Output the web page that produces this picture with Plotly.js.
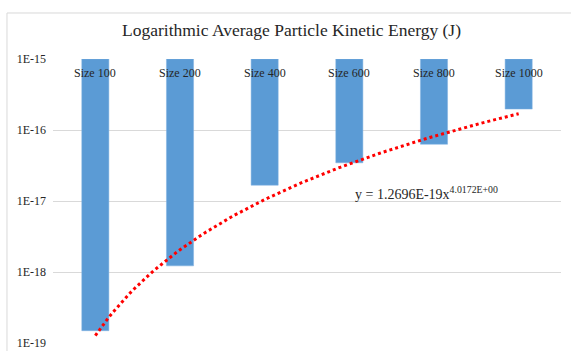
<!DOCTYPE html>
<html>
<head>
<meta charset="utf-8">
<script src="https://cdn.plot.ly/plotly-3.0.1.min.js"></script>
<style>html,body{margin:0;padding:0;background:#fff;}#chart{width:571px;height:351px;}</style>
</head>
<body>
<div id="chart"></div>
<script>
// Data
const categories = ["Size 100", "Size 200", "Size 400", "Size 600", "Size 800", "Size 1000"];
const energies = [1.49e-19, 1.22e-18, 1.67e-17, 3.45e-17, 6.3e-17, 1.97e-16];
const axisTop = 1e-15;                       // horizontal axis crosses at the top of the log axis
const tickValues = [1e-19, 1e-18, 1e-17, 1e-16, 1e-15];
const tickLabels = ["1E-19", "1E-18", "1E-17", "1E-16", "1E-15"];
// Power trendline coefficients as printed on the chart: y = A * x^B
const trendA = 1.2696e-19;
const trendB = 4.0172;
const trendLabel = "y = 1.2696E-19x<sup>4.0172E+00</sup>";

const serif = "Liberation Serif, Times New Roman, serif";
const textColor = "#262626";

// Bars hang from the axis at 1E-15 down to each value
const barTrace = {
  type: "bar",
  x: categories,
  base: energies,
  y: energies.map(v => axisTop - v),
  width: 0.32,
  marker: {color: "#5b9bd5", line: {color: "#7fb0e0", width: 0.5}},
  hoverinfo: "skip",
  showlegend: false
};

// Trendline over category positions 1..6
const tx = [], ty = [];
for (let i = 0; i <= 100; i++) {
  const t = 1 + 5 * i / 100;
  tx.push(t);
  ty.push(trendA * Math.pow(t, trendB));
}
const trendTrace = {
  type: "scatter",
  mode: "lines",
  x: tx, y: ty,
  xaxis: "x2", yaxis: "y",
  line: {color: "#ff0000", width: 3, dash: "dot"},
  hoverinfo: "skip",
  showlegend: false
};

const annotations = categories.map(c => ({
  x: c, xref: "x", y: 1, yref: "paper",
  yanchor: "middle", yshift: -14,
  text: c, showarrow: false,
  font: {family: serif, size: 12, color: textColor}
}));
annotations.push({
  x: 0.736, xref: "paper", y: 0.528, yref: "paper",
  xanchor: "center", yanchor: "middle",
  text: trendLabel, showarrow: false,
  font: {family: serif, size: 14, color: textColor}
});

const layout = {
  width: 571, height: 351,
  margin: {l: 53, r: 10, t: 59, b: 8, pad: 0},
  paper_bgcolor: "#ffffff",
  plot_bgcolor: "#ffffff",
  title: {
    text: "Logarithmic Average Particle Kinetic Energy (J)",
    font: {family: serif, size: 17.5, color: textColor},
    x: 0.4695, xref: "paper", xanchor: "center",
    y: 33, yref: "container", yanchor: "middle"
  },
  xaxis: {
    type: "category", range: [-0.5, 5.5],
    showticklabels: false, showgrid: false, zeroline: false, showline: false, ticks: ""
  },
  xaxis2: {
    type: "linear", range: [0.5, 6.5], overlaying: "x",
    visible: false, showgrid: false, zeroline: false
  },
  yaxis: {
    type: "log", range: [-19, -15],
    tickmode: "array", tickvals: tickValues, ticktext: tickLabels,
    showgrid: true, gridcolor: "#d9d9d9", gridwidth: 1,
    zeroline: false, showline: false, ticks: "",
    ticklabelstandoff: 6,
    tickfont: {family: serif, size: 12, color: textColor}
  },
  shapes: [{
    type: "rect", xref: "paper", yref: "paper",
    x0: -0.0906, x1: 1.2, y0: -0.2, y1: 1.162,
    line: {color: "#d9d9d9", width: 1}, layer: "below"
  }],
  annotations: annotations,
  bargap: 0
};

Plotly.newPlot("chart", [barTrace, trendTrace], layout, {displayModeBar: false, staticPlot: true});
</script>
</body>
</html>
